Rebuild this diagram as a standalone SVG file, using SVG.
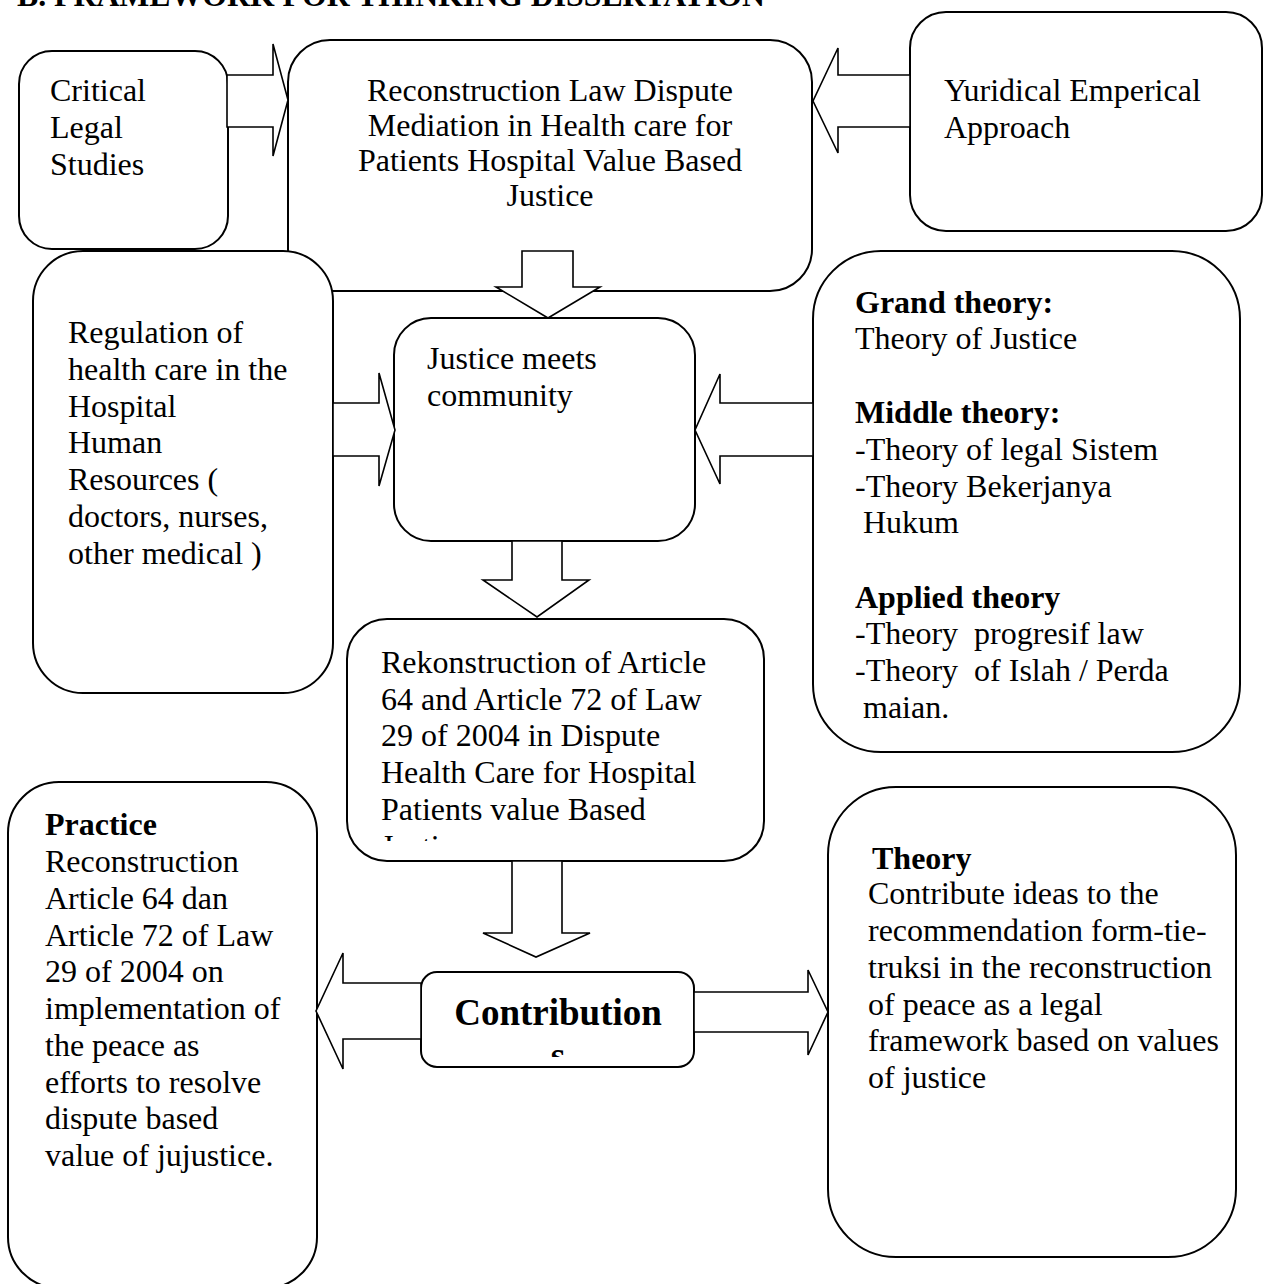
<svg xmlns="http://www.w3.org/2000/svg" width="1266" height="1284" viewBox="0 0 1266 1284">
<style>
.box{fill:#fff;stroke:#000;stroke-width:2}
.arr{fill:#fff;stroke:#000;stroke-width:1.6;stroke-linejoin:miter}
text{font-family:"Liberation Serif","Times New Roman",serif;font-size:32px;fill:#000;white-space:pre}
.b{font-weight:bold}
.c{text-anchor:middle}
</style>
<defs>
<clipPath id="clipRekon"><rect x="347" y="619" width="417" height="222"/></clipPath>
<clipPath id="clipContrib"><rect x="420" y="972" width="273" height="85"/></clipPath>
</defs>
<rect width="1266" height="1284" fill="#fff"/>
<text class="b" x="17" y="5.5" textLength="748" lengthAdjust="spacingAndGlyphs">B. FRAMEWORK FOR THINKING DISSERTATION</text>

<g id="node-top">
<rect class="box" x="288" y="40" width="524" height="251" rx="42"/>
<text class="c" x="550" y="101">Reconstruction Law Dispute</text>
<text class="c" x="550" y="136">Mediation in Health care for</text>
<text class="c" x="550" y="171">Patients Hospital Value Based</text>
<text class="c" x="550" y="206">Justice</text>
</g>
<g id="node-critical">
<rect class="box" x="19" y="51" width="209" height="198" rx="33"/>
<text x="50" y="101">Critical</text>
<text x="50" y="138">Legal</text>
<text x="50" y="175">Studies</text>
</g>
<g id="node-yuridical">
<rect class="box" x="910" y="12" width="352" height="219" rx="36"/>
<text x="944" y="101">Yuridical Emperical</text>
<text x="944" y="138">Approach</text>
</g>
<g id="node-grand">
<rect class="box" x="813" y="251" width="427" height="501" rx="68"/>
<text class="b" x="855" y="313">Grand theory:</text>
<text x="855" y="349">Theory of Justice</text>
<text class="b" x="855" y="423">Middle theory:</text>
<text x="855" y="460">-Theory of legal Sistem</text>
<text x="855" y="497">-Theory Bekerjanya</text>
<text x="855" y="533"> Hukum</text>
<text class="b" x="855" y="608">Applied theory</text>
<text x="855" y="644">-Theory  progresif law</text>
<text x="855" y="681">-Theory  of Islah / Perda</text>
<text x="855" y="718"> maian.</text>
</g>
<g id="node-regulation">
<rect class="box" x="33" y="251" width="300" height="442" rx="50"/>
<text x="68" y="343">Regulation of</text>
<text x="68" y="380">health care in the</text>
<text x="68" y="417">Hospital</text>
<text x="68" y="453">Human</text>
<text x="68" y="490">Resources (</text>
<text x="68" y="527">doctors, nurses,</text>
<text x="68" y="564">other medical )</text>
</g>
<g id="node-justice">
<rect class="box" x="394" y="318" width="301" height="223" rx="37"/>
<text x="427" y="369">Justice meets</text>
<text x="427" y="406">community</text>
</g>
<g id="node-rekon">
<rect class="box" x="347" y="619" width="417" height="242" rx="40"/>
<g clip-path="url(#clipRekon)">
<text x="381" y="673">Rekonstruction of Article</text>
<text x="381" y="709.6">64 and Article 72 of Law</text>
<text x="381" y="746.4">29 of 2004 in Dispute</text>
<text x="381" y="783.2">Health Care for Hospital</text>
<text x="381" y="820">Patients value Based</text>
<text x="381" y="856.8">Justice</text>
</g>
</g>
<g id="node-practice">
<rect class="box" x="8" y="782" width="309" height="506" rx="51"/>
<text class="b" x="45" y="835">Practice</text>
<text x="45" y="872">Reconstruction</text>
<text x="45" y="909">Article 64 dan</text>
<text x="45" y="946">Article 72 of Law</text>
<text x="45" y="982">29 of 2004 on</text>
<text x="45" y="1019">implementation of</text>
<text x="45" y="1056">the peace as</text>
<text x="45" y="1093">efforts to resolve</text>
<text x="45" y="1129">dispute based</text>
<text x="45" y="1166">value of jujustice.</text>
</g>
<g id="node-theory">
<rect class="box" x="828" y="787" width="408" height="470" rx="68"/>
<text class="b" x="872" y="869">Theory</text>
<text x="868" y="904">Contribute ideas to the</text>
<text x="868" y="941">recommendation form-tie-</text>
<text x="868" y="978">truksi in the reconstruction</text>
<text x="868" y="1015">of peace as a legal</text>
<text x="868" y="1051">framework based on values</text>
<text x="868" y="1088">of justice</text>
</g>
<g id="node-contribution">
<rect class="box" x="421" y="972" width="273" height="95" rx="16"/>
<g clip-path="url(#clipContrib)">
<text class="b c" x="558" y="1025" style="font-size:37px">Contribution</text>
<text class="b c" x="558" y="1067.5" style="font-size:37px">s</text>
</g>
</g>

<g id="connectors">
<polygon class="arr" points="227,75 273,75 273,44 288,100 273,156 273,127 227,127"/>
<polygon class="arr" points="910,75 838,75 838,48 813,101 838,153 838,127 910,127"/>
<polygon class="arr" points="522,251 573,251 573,287 600,287 548,318 496,287 522,287"/>
<polygon class="arr" points="333,403 379,403 379,373 395,430 379,486 379,456 333,456"/>
<polygon class="arr" points="813,403 720,403 720,374 695,430 720,484 720,456 813,456"/>
<polygon class="arr" points="512,541 562,541 562,580 589,580 537,617 483,580 512,580"/>
<polygon class="arr" points="512,861 562,861 562,933 590,933 536,957 483,933 512,933"/>
<polygon class="arr" points="421,983 343,983 343,953 316,1011 343,1069 343,1039 421,1039"/>
<polygon class="arr" points="694,992 808,992 808,970 828,1012 808,1055 808,1032 694,1032"/>
</g>
</svg>
